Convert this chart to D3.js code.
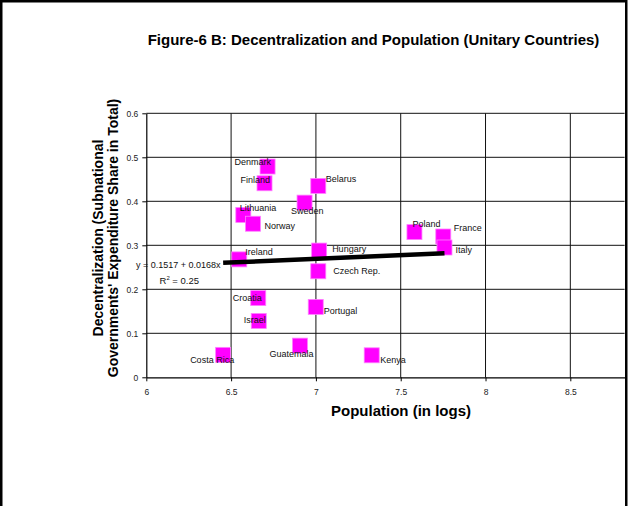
<!DOCTYPE html>
<html>
<head>
<meta charset="utf-8">
<script src="https://cdn.jsdelivr.net/npm/d3@7"></script>
<style>
  body { margin: 0; background: #fff; }
  svg { display: block; font-family: "Liberation Sans", Arial, sans-serif; }
</style>
</head>
<body>
<svg id="chart" width="628" height="506"></svg>
<script>
// data
const countries = ["Denmark", "Finland", "Belarus", "Sweden", "Lithuania", "Norway",
    "Hungary", "Czech Rep.", "Poland", "France", "Italy", "Ireland", "Croatia",
    "Israel", "Guatemala", "Costa Rica", "Portugal", "Kenya"];
const logPop = [6.715, 6.697, 7.014, 6.933, 6.572, 6.629, 7.019, 7.014, 7.581,
    7.751, 7.758, 6.548, 6.660, 6.663, 6.906, 6.453, 6.999, 7.329];
const decentral = [0.479, 0.441, 0.435, 0.397, 0.369, 0.349, 0.288, 0.241, 0.330,
    0.320, 0.295, 0.268, 0.180, 0.128, 0.072, 0.051, 0.160, 0.050];
const xTicks = [6, 6.5, 7, 7.5, 8, 8.5];
const yTicks = [0, 0.1, 0.2, 0.3, 0.4, 0.5, 0.6];
const intercept = 0.1517, slope = 0.0168, rSquared = 0.25;

// where Excel put each label, relative to the marker centre
const labelOffsets = {
    "Denmark": [-33, -1.5], "Finland": [-24, 0], "Belarus": [7.5, -4],
    "Sweden": [-13.5, 11], "Lithuania": [-3.5, -4], "Norway": [11.5, 5.5],
    "Hungary": [13, 1.5], "Czech Rep.": [15, 2.5], "Poland": [-2, -5],
    "France": [10.5, -6], "Italy": [11, 5.5], "Ireland": [6, -4],
    "Croatia": [-25.5, 3], "Israel": [-15, 2.5], "Guatemala": [-30.5, 11],
    "Costa Rica": [-33, 8.5], "Portugal": [8, 7.5], "Kenya": [8.5, 8]
};

const svg = d3.select("#chart");

svg.append("rect")
    .attr("x", 1.25).attr("y", 1.25)
    .attr("width", 625).attr("height", 620)
    .attr("fill", "none")
    .attr("stroke", "#000")
    .attr("stroke-width", 2.5);

const x = d3.scaleLinear().domain([6, 8.82]).range([146.3, 624.6]);
const y = d3.scaleLinear().domain([0, 0.6]).range([377.3, 113.3]);

// grid
svg.append("g").selectAll("line.h")
    .data(yTicks.filter(d => d > 0))
    .join("line")
    .attr("x1", x(6)).attr("x2", x(8.82))
    .attr("y1", d => y(d)).attr("y2", d => y(d))
    .attr("stroke", "#111");

svg.append("g").selectAll("line.v")
    .data(xTicks.filter(d => d > 6))
    .join("line")
    .attr("x1", d => x(d)).attr("x2", d => x(d))
    .attr("y1", y(0)).attr("y2", y(0.6))
    .attr("stroke", "#111");

// axes
const yAxis = svg.append("g")
    .attr("transform", `translate(${x(6)},0)`)
    .call(d3.axisLeft(y).tickValues(yTicks).tickSize(4).tickSizeOuter(0)
        .tickFormat(d => d === 0 ? "0" : d3.format(".1f")(d)));
const xAxis = svg.append("g")
    .attr("transform", `translate(0,${y(0)})`)
    .call(d3.axisBottom(x).tickValues(xTicks).tickSize(4).tickSizeOuter(0)
        .tickFormat(d => String(d)));

[xAxis, yAxis].forEach(g => {
    g.select(".domain").attr("stroke", "#000").attr("stroke-width", 1.2);
    g.selectAll(".tick line").attr("stroke", "#000");
    g.selectAll(".tick text")
        .attr("font-family", "Liberation Sans, Arial, sans-serif")
        .attr("font-size", 8.5)
        .attr("fill", "#222");
});
xAxis.selectAll(".tick text").attr("dy", "1.3em");
yAxis.selectAll(".tick text").attr("x", -8);

// markers
const pts = countries.map((c, i) => ({name: c, px: logPop[i], py: decentral[i]}));
const sz = 15;
svg.append("g").selectAll("rect")
    .data(pts)
    .join("rect")
    .attr("x", d => x(d.px) - sz / 2)
    .attr("y", d => y(d.py) - sz / 2)
    .attr("width", sz).attr("height", sz)
    .attr("fill", "#ff00ff")
    .attr("stroke", "#ff80ff")
    .attr("stroke-width", 0.8);

// linear trend line
const xr = d3.extent(logPop);
svg.append("line")
    .attr("x1", x(xr[0])).attr("y1", y(intercept + slope * xr[0]))
    .attr("x2", x(xr[1])).attr("y2", y(intercept + slope * xr[1]))
    .attr("stroke", "#000")
    .attr("stroke-width", 4.5);

// labels
svg.append("g").selectAll("text")
    .data(pts)
    .join("text")
    .attr("x", d => x(d.px) + labelOffsets[d.name][0])
    .attr("y", d => y(d.py) + labelOffsets[d.name][1])
    .attr("font-size", 9)
    .attr("fill", "#111")
    .text(d => d.name);

// equation
svg.append("text")
    .attr("x", 136).attr("y", 268)
    .attr("font-size", 9)
    .attr("fill", "#111")
    .text(`y = ${intercept} + ${slope}x`);
const r2 = svg.append("text")
    .attr("x", 159.5).attr("y", 284)
    .attr("font-size", 9.5)
    .attr("fill", "#111");
r2.append("tspan").text("R");
r2.append("tspan").attr("dy", -4).attr("font-size", 6).text("2");
r2.append("tspan").attr("dy", 4).text(` = ${rSquared}`);

// titles
svg.append("text")
    .attr("x", 373.5).attr("y", 45)
    .attr("text-anchor", "middle")
    .attr("font-size", 15)
    .attr("font-weight", "bold")
    .text("Figure-6 B: Decentralization and Population (Unitary Countries)");

svg.append("text")
    .attr("x", 401).attr("y", 416)
    .attr("text-anchor", "middle")
    .attr("font-size", 15)
    .attr("font-weight", "bold")
    .text("Population (in logs)");

const yTitle = svg.append("text")
    .attr("transform", "translate(103,238) rotate(-90)")
    .attr("text-anchor", "middle")
    .attr("font-size", 14)
    .attr("font-weight", "bold");
yTitle.append("tspan").attr("x", 0).attr("y", 0).text("Decentralization (Subnational");
yTitle.append("tspan").attr("x", 0).attr("y", 14.7).text("Governments' Expenditure Share in Total)");
</script>
</body>
</html>
